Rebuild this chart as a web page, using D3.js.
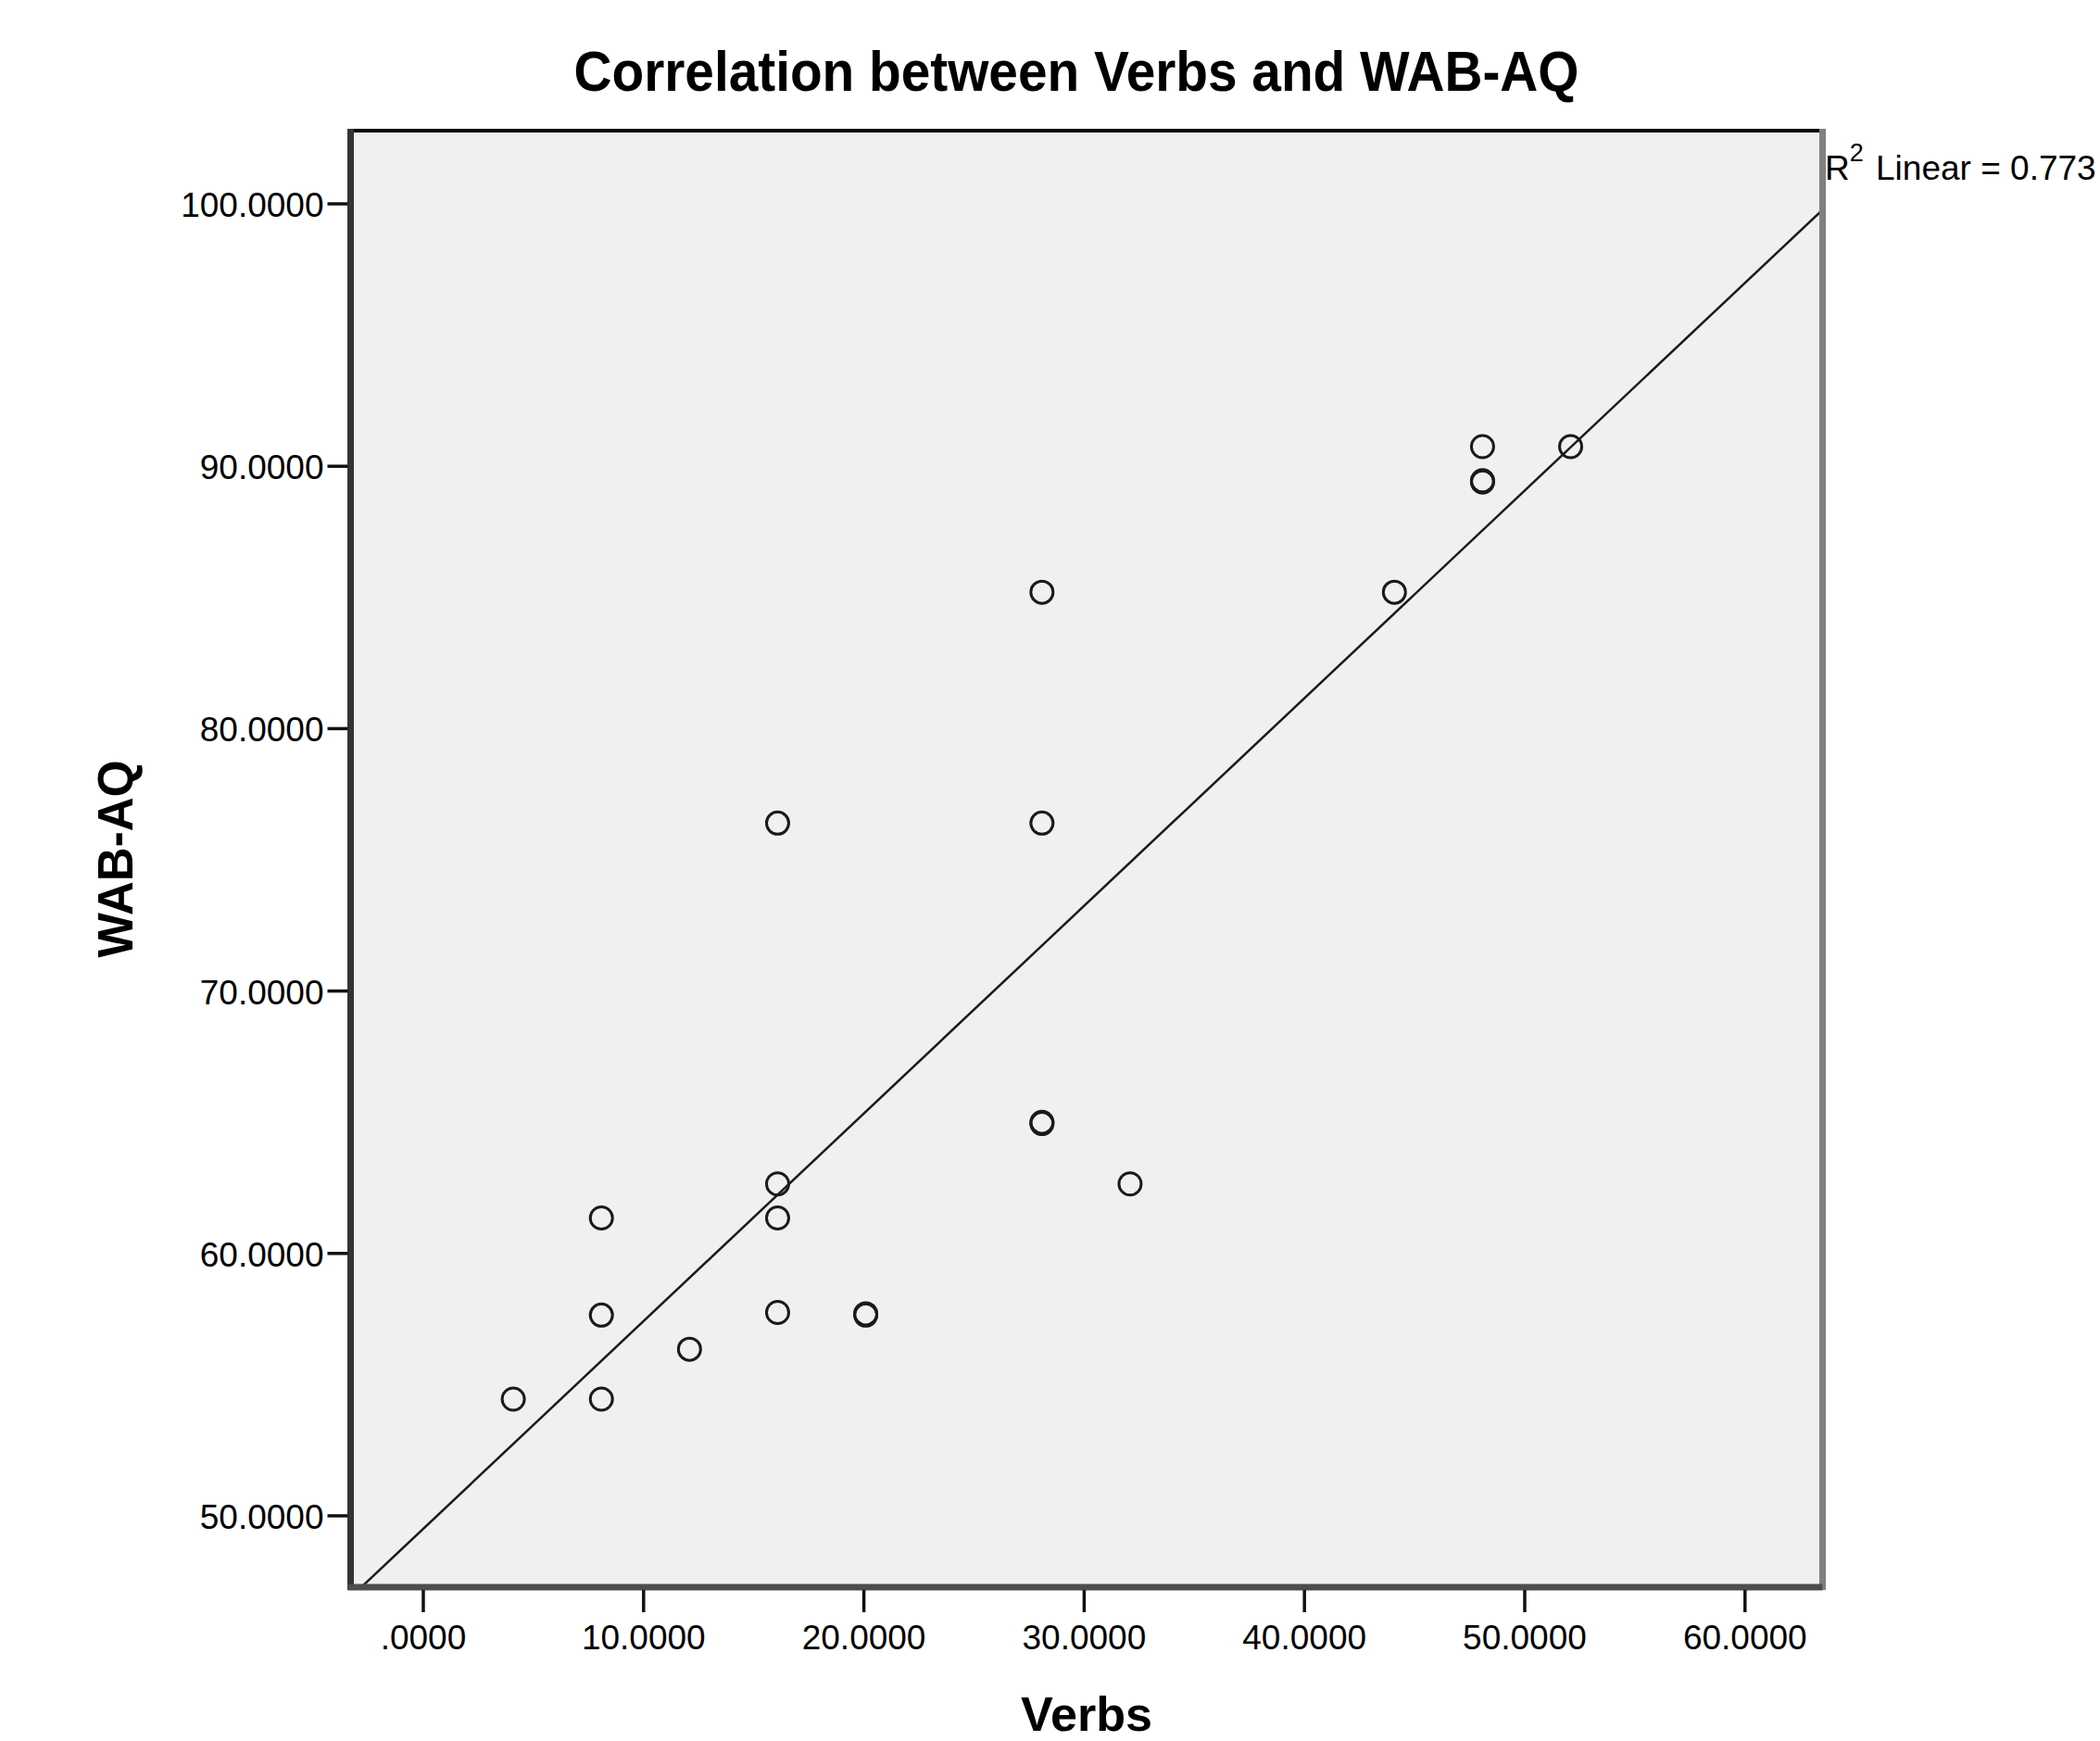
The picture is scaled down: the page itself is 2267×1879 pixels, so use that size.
<!DOCTYPE html>
<html>
<head>
<meta charset="utf-8">
<script src="https://cdn.jsdelivr.net/npm/d3@7"></script>
<style>
  body { margin: 0; background: #fff; }
  text { font-family: "Liberation Sans", Arial, sans-serif; }
</style>
</head>
<body>
<svg id="chart" width="2267" height="1879"></svg>
<script>
// values
const verbs = [4, 8, 8, 8, 12, 16, 16, 16, 16, 20, 20, 28, 28, 28, 28, 32, 44, 48, 48, 48, 52];
const wabAQ = [54.45, 54.45, 57.65, 61.35, 56.35, 62.65, 61.35, 57.75, 76.4, 57.65, 57.7, 64.95, 65.0, 76.4, 85.2, 62.65, 85.2, 89.4, 89.45, 90.75, 90.75];
const xTicks = [0, 10, 20, 30, 40, 50, 60];
const yTicks = [50, 60, 70, 80, 90, 100];
const titleText = "Correlation between Verbs and WAB-AQ";
const xTitle = "Verbs";
const yTitle = "WAB-AQ";
const r2Value = "0.773";

const svg = d3.select("#chart");
const plot = { left: 378.5, top: 141, width: 1589, height: 1572 };

const x = d3.scaleLinear().domain([-3.30, 63.52]).range([plot.left, plot.left + plot.width]);
const y = d3.scaleLinear().domain([47.28, 102.79]).range([plot.top + plot.height, plot.top]);

let fmt = function(v) { return d3.format(".4f")(v).replace(/^0\./, "."); };

// plot background
svg.append("rect")
    .attr("x", plot.left).attr("y", plot.top)
    .attr("width", plot.width).attr("height", plot.height)
    .attr("fill", "#f0f0f0");

svg.append("clipPath").attr("id", "clip")
  .append("rect")
    .attr("x", plot.left).attr("y", plot.top)
    .attr("width", plot.width).attr("height", plot.height);

// least squares fit line
let data = verbs.map((v, i) => ({ x: v, y: wabAQ[i] }));
let mx = d3.mean(data, d => d.x), my = d3.mean(data, d => d.y);
let sxy = d3.sum(data, d => (d.x - mx) * (d.y - my));
let sxx = d3.sum(data, d => (d.x - mx) * (d.x - mx));
let slope = sxy / sxx, icept = my - slope * mx;
let xd = x.domain();

svg.append("line")
    .attr("clip-path", "url(#clip)")
    .attr("x1", x(xd[0])).attr("y1", y(icept + slope * xd[0]))
    .attr("x2", x(xd[1])).attr("y2", y(icept + slope * xd[1]))
    .attr("stroke", "#1a1a1a")
    .attr("stroke-width", 2.5);

// points (nudged 2px right, as in the original render)
svg.append("g").selectAll("circle")
    .data(data)
    .join("circle")
    .attr("cx", d => x(d.x) + 2)
    .attr("cy", d => y(d.y))
    .attr("r", 12)
    .attr("fill", "none")
    .attr("stroke", "#1a1a1a")
    .attr("stroke-width", 3);

// frame
let L = plot.left, T = plot.top, R = plot.left + plot.width, B = plot.top + plot.height;
svg.append("line").attr("x1", L - 3).attr("x2", R).attr("y1", T).attr("y2", T)
    .attr("stroke", "#000").attr("stroke-width", 4);
svg.append("line").attr("x1", R).attr("x2", R).attr("y1", T - 2).attr("y2", B + 3)
    .attr("stroke", "#808080").attr("stroke-width", 7);
svg.append("line").attr("x1", L).attr("x2", L).attr("y1", T - 2).attr("y2", B + 3)
    .attr("stroke", "#333").attr("stroke-width", 7);
svg.append("line").attr("x1", L - 3).attr("x2", R).attr("y1", B).attr("y2", B)
    .attr("stroke", "#4d4d4d").attr("stroke-width", 7);

// y axis
let yAxis = svg.append("g");
yAxis.selectAll("line").data(yTicks).join("line")
    .attr("x1", L - 25).attr("x2", L - 3)
    .attr("y1", d => y(d)).attr("y2", d => y(d))
    .attr("stroke", "#111").attr("stroke-width", 3.5);
yAxis.selectAll("text").data(yTicks).join("text")
    .attr("x", L - 29)
    .attr("y", d => y(d) + 14)
    .attr("text-anchor", "end")
    .attr("font-size", 37)
    .attr("fill", "#000")
    .text(fmt);

// x axis
let xAxis = svg.append("g");
xAxis.selectAll("line").data(xTicks).join("line")
    .attr("x1", d => x(d)).attr("x2", d => x(d))
    .attr("y1", B + 3).attr("y2", B + 27)
    .attr("stroke", "#111").attr("stroke-width", 3.5);
xAxis.selectAll("text").data(xTicks).join("text")
    .attr("x", d => x(d))
    .attr("y", 1780)
    .attr("text-anchor", "middle")
    .attr("font-size", 37)
    .attr("fill", "#000")
    .text(fmt);

// titles
svg.append("text")
    .attr("x", 1162).attr("y", 98)
    .attr("text-anchor", "middle")
    .attr("font-size", 62).attr("font-weight", "bold")
    .attr("textLength", 1085).attr("lengthAdjust", "spacingAndGlyphs")
    .text(titleText);

svg.append("text")
    .attr("x", 1173).attr("y", 1868)
    .attr("text-anchor", "middle")
    .attr("font-size", 52).attr("font-weight", "bold")
    .attr("textLength", 142).attr("lengthAdjust", "spacingAndGlyphs")
    .text(xTitle);

svg.append("text")
    .attr("transform", "translate(143," + (T + B) / 2 + ") rotate(-90)")
    .attr("text-anchor", "middle")
    .attr("font-size", 54).attr("font-weight", "bold")
    .attr("textLength", 213).attr("lengthAdjust", "spacingAndGlyphs")
    .text(yTitle);

// R squared note
let r2 = svg.append("text")
    .attr("x", 1970).attr("y", 194)
    .attr("font-size", 37)
    .attr("fill", "#000");
r2.append("tspan").text("R");
r2.append("tspan").attr("font-size", 27).attr("dy", -20).text("2");
r2.append("tspan").attr("dy", 20).attr("dx", 3).text(" Linear = " + r2Value);
</script>
</body>
</html>
